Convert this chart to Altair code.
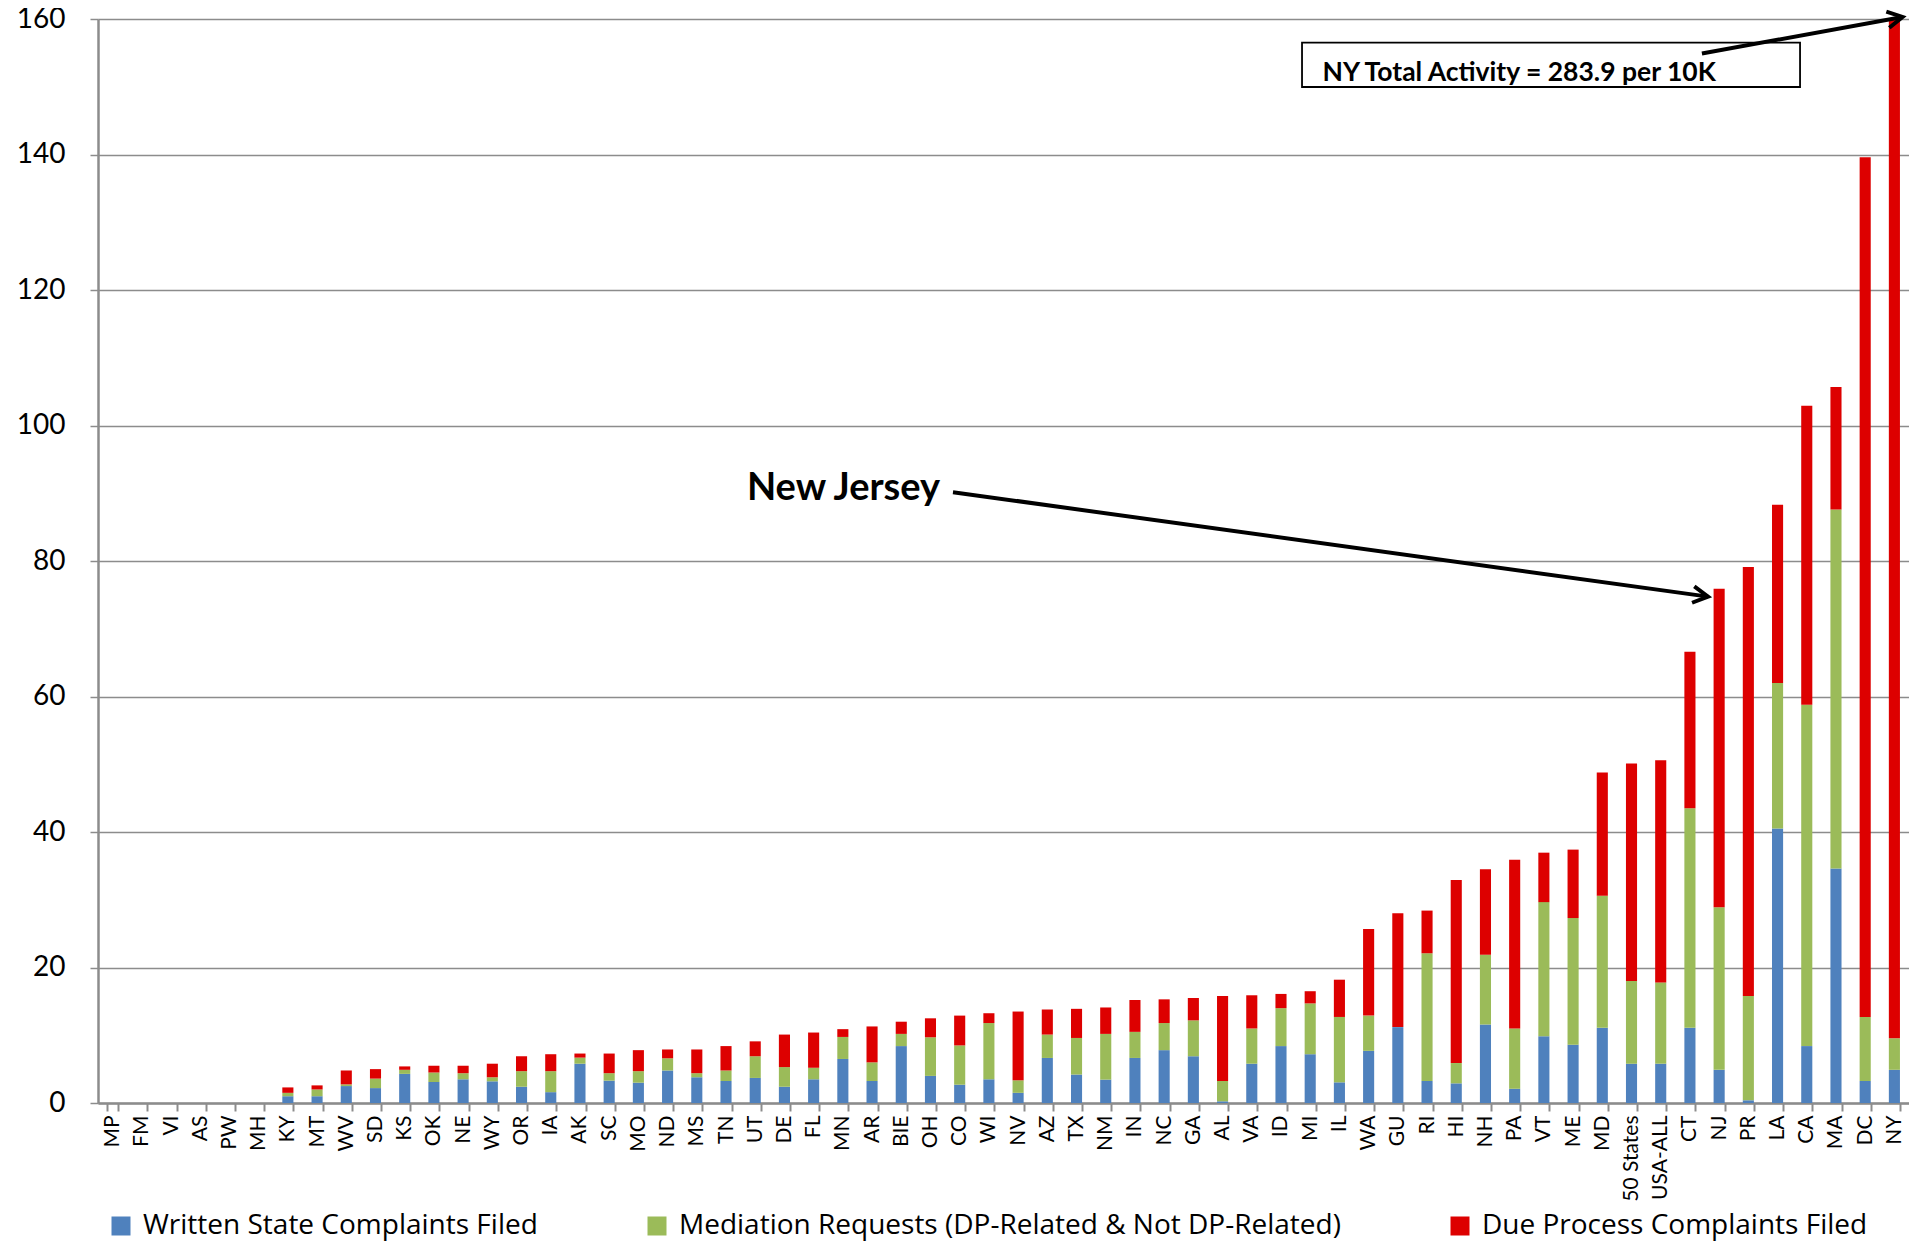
import altair as alt
import pandas as pd

states = ["MP", "FM", "VI", "AS", "PW", "MH", "KY", "MT", "WV", "SD", "KS", "OK", "NE", "WY",
          "OR", "IA", "AK", "SC", "MO", "ND", "MS", "TN", "UT", "DE", "FL", "MN", "AR", "BIE",
          "OH", "CO", "WI", "NV", "AZ", "TX", "NM", "IN", "NC", "GA", "AL", "VA", "ID", "MI",
          "IL", "WA", "GU", "RI", "HI", "NH", "PA", "VT", "ME", "MD", "50 States", "USA-ALL",
          "CT", "NJ", "PR", "LA", "CA", "MA", "DC", "NY"]

written = [0, 0, 0, 0, 0, 0, 1.0, 1.0, 2.5, 2.2, 4.3, 3.1, 3.5, 3.2,
           2.4, 1.6, 5.8, 3.3, 3.0, 4.8, 3.8, 3.25, 3.7, 2.4, 3.5, 6.5, 3.25, 8.4,
           4.0, 2.7, 3.5, 1.5, 6.65, 4.2, 3.45, 6.65, 7.8, 6.9, 0.25, 5.8, 8.4, 7.2,
           3.05, 7.7, 11.2, 3.25, 2.9, 11.6, 2.1, 9.85, 8.6, 11.1, 5.8, 5.8,
           11.1, 4.9, 0.4, 40.5, 8.4, 34.6, 3.25, 4.9]

mediation = [0, 0, 0, 0, 0, 0, 0.5, 1.0, 0.25, 1.4, 0.6, 1.4, 0.9, 0.6,
             2.3, 3.1, 0.9, 1.1, 1.7, 1.8, 0.6, 1.55, 3.2, 2.9, 1.7, 3.25, 2.75, 1.8,
             5.7, 5.8, 8.3, 1.85, 3.45, 5.4, 6.75, 3.85, 4.0, 5.3, 3.0, 5.2, 5.6, 7.5,
             9.65, 5.2, 0.0, 18.85, 3.0, 10.3, 8.9, 19.8, 18.7, 19.5, 12.2, 12.0,
             32.4, 24.0, 15.4, 21.5, 50.4, 53.0, 9.45, 4.65]

due_process = [0, 0, 0, 0, 0, 0, 0.8, 0.6, 2.05, 1.4, 0.5, 1.0, 1.1, 2.0,
               2.2, 2.5, 0.6, 2.9, 3.1, 1.3, 3.5, 3.6, 2.2, 4.8, 5.2, 1.15, 5.3, 1.8,
               2.8, 4.4, 1.45, 10.15, 3.7, 4.3, 3.9, 4.7, 3.5, 3.3, 12.55, 4.9, 2.1, 1.8,
               5.5, 12.8, 16.8, 6.3, 27.0, 12.6, 24.9, 7.3, 10.1, 18.2, 32.1, 32.8,
               23.1, 47.0, 63.3, 26.3, 44.1, 18.1, 126.9, 274.35]

series_names = ["Written State Complaints Filed",
                "Mediation Requests (DP-Related & Not DP-Related)",
                "Due Process Complaints Filed"]
series_colors = ["#4F81BD", "#9BBB59", "#DD0000"]

y_ticks = [0, 20, 40, 60, 80, 100, 120, 140, 160]

# annotation content (positions in category-index units and data units)
arrow_x = [29.27, 54.91]
arrow_y = [90.16, 154.9]
arrow_x2 = [55.12, 61.78]
arrow_y2 = [74.74, 160.3]
arrow_angle = [7.87, 349.6]

nj_label = ["New Jersey"]
nj_x = [28.83]
nj_y = [89.0]

ny_label = ["NY Total Activity = 283.9 per 10K"]
ny_x = [41.92]
ny_y = [150.9]
box_x = [41.22]
box_x2 = [58.27]
box_y = [156.5]
box_y2 = [149.96]

rows = []
for i, s in enumerate(states):
    for k, vals in enumerate([written, mediation, due_process]):
        rows.append({"state": s, "series": series_names[k], "value": vals[i], "ord": k})
df = pd.DataFrame(rows)

FONT = "Lato"
GRAY = "#8C8C8C"
yscale = alt.Scale(domain=[0, 160], nice=False, zero=True)

bars = alt.Chart(df).mark_bar(clip=True).encode(
    x=alt.X("state:N", sort=states, title=None,
            scale=alt.Scale(paddingInner=0.62, paddingOuter=0.31),
            axis=alt.Axis(labelAngle=270, labelFont=FONT, labelFontSize=21, labelColor="black",
                          labelPadding=4, labelOverlap=False, tickBand="extent", ticks=True,
                          tickSize=8, tickColor=GRAY, tickWidth=2, domainColor=GRAY,
                          domainWidth=2.5, grid=False)),
    y=alt.Y("value:Q", stack="zero", scale=yscale, title=None,
            axis=alt.Axis(values=y_ticks, labelFont=FONT, labelFontSize=28, labelColor="black",
                          labelPadding=25, tickSize=8, tickColor=GRAY, tickWidth=1.5,
                          domainColor=GRAY, domainWidth=2.5, grid=True, gridColor=GRAY,
                          gridWidth=1.5)),
    color=alt.Color("series:N", scale=alt.Scale(domain=series_names, range=series_colors),
                    legend=alt.Legend(orient="none", legendX=9, legendY=1193,
                                      direction="horizontal", title=None, symbolType="square",
                                      symbolSize=361, symbolStrokeWidth=0, labelFont="Open Sans",
                                      labelFontSize=28, labelColor="black", labelOffset=8,
                                      columnPadding=105, padding=0, labelLimit=1000)),
    order=alt.Order("ord:Q", sort="ascending"),
)

qx = alt.Scale(domain=[0, 62], nice=False, zero=False)

arrows_df = pd.DataFrame({"x": arrow_x, "y": arrow_y, "x2": arrow_x2, "y2": arrow_y2,
                          "angle": arrow_angle})

shafts = alt.Chart(arrows_df).mark_rule(color="black", strokeWidth=4).encode(
    x=alt.X("x:Q", scale=qx, axis=None),
    x2="x2:Q",
    y=alt.Y("y:Q", scale=yscale, title=None),
    y2="y2:Q",
)

heads = alt.Chart(arrows_df).mark_point(
    shape="M-1,-0.55L0,0L-1,0.55", filled=False, stroke="black", strokeWidth=4,
    size=900, opacity=1, strokeJoin="miter"
).encode(
    x=alt.X("x2:Q", scale=qx, axis=None),
    y=alt.Y("y2:Q", scale=yscale, title=None),
    angle=alt.Angle("angle:Q", scale=None),
)

box_df = pd.DataFrame({"x": box_x, "x2": box_x2, "y": box_y, "y2": box_y2})
box = alt.Chart(box_df).mark_rect(fill="white", stroke="black", strokeWidth=1.8).encode(
    x=alt.X("x:Q", scale=qx, axis=None),
    x2="x2:Q",
    y=alt.Y("y:Q", scale=yscale, title=None),
    y2="y2:Q",
)

nj_df = pd.DataFrame({"label": nj_label, "x": nj_x, "y": nj_y})
nj_text = alt.Chart(nj_df).mark_text(font=FONT, fontWeight="bold", fontSize=38, align="right",
                                     baseline="alphabetic", color="black").encode(
    x=alt.X("x:Q", scale=qx, axis=None),
    y=alt.Y("y:Q", scale=yscale, title=None),
    text="label:N",
)

ny_df = pd.DataFrame({"label": ny_label, "x": ny_x, "y": ny_y})
ny_text = alt.Chart(ny_df).mark_text(font=FONT, fontWeight="bold", fontSize=26.5, align="left",
                                     baseline="alphabetic", color="black").encode(
    x=alt.X("x:Q", scale=qx, axis=None),
    y=alt.Y("y:Q", scale=yscale, title=None),
    text="label:N",
)

annotations = alt.layer(box, shafts, heads, nj_text, ny_text)

chart = alt.layer(bars, annotations).resolve_scale(x="independent").properties(
    width=1811, height=1084,
    padding={"left": 90, "top": 11, "right": 0, "bottom": 138},
    autosize=alt.AutoSizeParams(type="none"),
    background="white",
).configure_view(stroke=None)

chart.save("out.html", embed_options={"renderer": "svg", "actions": False})
